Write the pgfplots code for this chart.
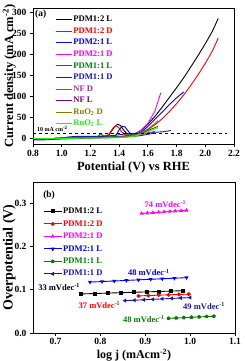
\documentclass[border=0pt]{standalone}
\usepackage{pgfplots}
\pgfplotsset{compat=1.18}
\usepackage{fontspec}
\setmainfont{Liberation Serif}
\definecolor{navyc}{HTML}{1A1A9E}
\definecolor{dgreen}{HTML}{008000}
\definecolor{nfd}{HTML}{9933AA}
\definecolor{nfl}{HTML}{800080}
\definecolor{olivec}{HTML}{808000}
\definecolor{lgreen}{HTML}{22EE22}
\definecolor{bluec}{HTML}{0000FF}
\definecolor{magc}{HTML}{FF00FF}
\begin{document}
\begin{tikzpicture}
\pgfplotsset{
  common/.style={
    scale only axis,
    tick align=outside, tick pos=left,
    axis line style={line width=0.9pt},
    major tick length=3pt,
    every tick/.style={line width=0.8pt,black},
    /pgf/number format/assume math mode=true,
    every tick label/.append style={font=\bfseries\fontsize{9.5}{10}\selectfont},
    label style={font=\bfseries\fontsize{12.5}{14}\selectfont},
  }
}
\begin{axis}[common, at={(0,0)}, anchor=south west, width=201pt, height=136pt,
  xmin=0.8, xmax=2.2, ymin=-14, ymax=310,
  xtick={0.8,1.0,1.2,1.4,1.6,1.8,2.0,2.2}, ytick={0,50,100,150,200,250,300},
  xticklabel style={/pgf/number format/fixed,/pgf/number format/precision=1,/pgf/number format/fixed zerofill},
  xlabel={Potential (V) vs RHE},
  ylabel={Current density (mA cm\textsuperscript{-2})},
  xlabel style={at={(axis description cs:0.5,-0.17)}, anchor=center},
  ylabel style={at={(axis description cs:-0.118,0.5)}, anchor=center},
  legend style={at={(0.095,0.965)}, anchor=north west, draw=none, fill=none,
    font=\bfseries\fontsize{8.6}{9}\selectfont, row sep=2.4pt, nodes={inner sep=1pt}},
  legend cell align=left,
  legend image code/.code={\draw[#1, line width=1pt] (0pt,0pt) -- (16pt,0pt);},
  every axis plot/.append style={line width=0.9pt},
]
\addplot[black] coordinates {(0.95,0)(1.05,1)(1.15,2)(1.25,3)(1.3,4)(1.33,8)(1.35,18)(1.37,28)(1.39,33)(1.41,30)(1.43,20)(1.45,12)(1.48,9)(1.52,12)(1.56,20)(1.6,33)(1.65,52)(1.7,74)(1.75,97)(1.8,120)(1.85,144)(1.9,170)(1.95,197)(2.0,225)(2.05,255)(2.09,285)};
\addlegendentry{\textcolor{black}{PDM1:2 L}}
\addplot[red] coordinates {(0.95,0)(1.1,1)(1.2,2)(1.3,3)(1.32,6)(1.34,15)(1.36,25)(1.38,30)(1.40,24)(1.42,14)(1.45,8)(1.5,8)(1.55,12)(1.6,20)(1.65,32)(1.7,46)(1.75,63)(1.8,82)(1.85,103)(1.9,126)(1.95,151)(2.0,178)(2.05,208)(2.09,238)};
\addlegendentry{\textcolor{red}{PDM1:2 D}}
\addplot[bluec] coordinates {(1.0,0)(1.2,2)(1.35,3)(1.38,8)(1.40,20)(1.42,28)(1.44,27)(1.46,18)(1.48,10)(1.52,9)(1.56,16)(1.6,28)(1.65,45)(1.7,62)(1.75,80)(1.8,96)(1.85,110)};
\addlegendentry{\textcolor{bluec}{PDM2:1 L}}
\addplot[magc] coordinates {(1.0,0)(1.3,2)(1.45,4)(1.5,8)(1.55,18)(1.6,35)(1.65,65)(1.69,108)};
\addlegendentry{\textcolor{magc}{PDM2:1 D}}
\addplot[dgreen] coordinates {(0.8,-3)(1.0,-1)(1.2,1)(1.25,4)(1.27,10)(1.29,6)(1.32,3)(1.4,4)(1.5,8)(1.55,12)(1.6,18)(1.67,28)};
\addlegendentry{\textcolor{dgreen}{PDM1:1 L}}
\addplot[navyc] coordinates {(1.0,0)(1.05,3)(1.1,4)(1.2,4)(1.3,5)(1.35,6)(1.4,8)(1.45,10)(1.5,11)(1.55,12)(1.6,13)(1.65,14)(1.7,15)(1.76,18)};
\addlegendentry{\textcolor{navyc}{PDM1:1 D}}
\addplot[nfd] coordinates {(1.0,0)(1.2,1)(1.4,2)(1.5,5)(1.55,8)(1.6,12)(1.65,16)};
\addlegendentry{\textcolor{nfd}{NF D}}
\addplot[nfl] coordinates {(0.8,-4)(0.89,-4)(1.0,-2)(1.2,0)(1.4,2)(1.5,4)(1.55,6)(1.6,9)(1.65,12)};
\addlegendentry{\textcolor{nfl}{NF L}}
\addplot[olivec] coordinates {(1.0,0)(1.3,1)(1.45,3)(1.5,6)(1.55,12)(1.6,22)(1.65,35)(1.67,42)};
\addlegendentry{\textcolor{olivec}{RuO\textsubscript{2} D}}
\addplot[lgreen] coordinates {(0.8,-1)(1.0,-1)(1.2,0)(1.4,1)(1.5,4)(1.55,9)(1.6,15)(1.65,22)(1.67,25)};
\addlegendentry{\textcolor{lgreen}{RuO\textsubscript{2} L}}
\addplot[black, dashed, line width=1pt, forget plot] coordinates {(0.8,10)(2.15,10)};
\node[anchor=south west, font=\bfseries\fontsize{6}{6}\selectfont, inner sep=1pt] at (axis cs:0.82,12) {10 mA cm\textsuperscript{-2}};
\node[anchor=north west, font=\bfseries\fontsize{9.5}{10}\selectfont, inner sep=0pt] at (rel axis cs:0.01,0.985) {(a)};
\end{axis}

\begin{axis}[common, at={(0,-189pt)}, anchor=south west, width=202pt, height=151pt,
  xmin=0.65, xmax=1.1, ymin=0, ymax=0.35,
  xtick={0.7,0.8,0.9,1.0,1.1}, ytick={0,0.1,0.2,0.3},
  xticklabel style={yshift=1.5pt, /pgf/number format/fixed,/pgf/number format/precision=1,/pgf/number format/fixed zerofill},
  yticklabel style={/pgf/number format/fixed,/pgf/number format/precision=1,/pgf/number format/fixed zerofill},
  xlabel={log j (mAcm\textsuperscript{-2})},
  ylabel={Overpotential (V)},
  xlabel style={at={(axis description cs:0.5,-0.148)}, anchor=center, font=\bfseries\fontsize{12}{13}\selectfont},
  ylabel style={at={(axis description cs:-0.118,0.5)}, anchor=center, font=\bfseries\fontsize{14}{15}\selectfont},
  legend style={at={(0.035,0.85)}, anchor=north west, draw=none, fill=none,
    font=\bfseries\fontsize{8.6}{9}\selectfont, row sep=3.3pt, nodes={inner sep=1pt}},
  legend cell align=left,
  legend image code/.code={\draw[mark repeat=2,mark phase=2,#1] plot coordinates {(0pt,0pt) (9pt,0pt) (18pt,0pt)};},
  every axis plot/.append style={line width=0.9pt, mark size=1.5pt},
]
\addplot[black, mark=square*] coordinates {(0.756,0.0905)(0.787,0.0915)(0.817,0.0925)(0.846,0.0935)(0.875,0.0944)(0.903,0.0953)(0.930,0.0962)(0.957,0.0971)(0.983,0.0980)};
\addlegendentry{\textcolor{black}{PDM1:2 L}}
\addplot[red, mark=*] coordinates {(0.885,0.0860)(0.907,0.0868)(0.930,0.0877)(0.952,0.0885)(0.975,0.0893)(0.997,0.0901)};
\addlegendentry{\textcolor{red}{PDM1:2 D}}
\addplot[magc, mark=triangle*] coordinates {(0.892,0.2770)(0.905,0.2780)(0.917,0.2789)(0.930,0.2798)(0.942,0.2807)(0.955,0.2817)(0.967,0.2826)(0.980,0.2835)(0.992,0.2844)};
\addlegendentry{\textcolor{magc}{PDM2:1 D}}
\addplot[bluec, mark=triangle*, mark options={rotate=180}] coordinates {(0.777,0.1180)(0.804,0.1193)(0.831,0.1206)(0.858,0.1219)(0.885,0.1232)(0.912,0.1245)(0.938,0.1257)(0.965,0.1270)(0.992,0.1283)};
\addlegendentry{\textcolor{bluec}{PDM2:1 L}}
\addplot[dgreen, mark=pentagon*] coordinates {(0.952,0.0340)(0.969,0.0348)(0.986,0.0356)(1.003,0.0365)(1.020,0.0373)(1.037,0.0381)(1.053,0.0388)};
\addlegendentry{\textcolor{dgreen}{PDM1:1 L}}
\addplot[navyc, mark=triangle*, mark options={rotate=90}] coordinates {(0.855,0.0750)(0.876,0.0760)(0.897,0.0770)(0.917,0.0780)(0.938,0.0791)(0.959,0.0801)(0.979,0.0811)(1.000,0.0821)};
\addlegendentry{\textcolor{navyc}{PDM1:1 D}}
\node[font=\bfseries\fontsize{8.5}{9}\selectfont, text=magc] at (axis cs:0.945,0.298) {74 mVdec\textsuperscript{-1}};
\node[font=\bfseries\fontsize{8.5}{9}\selectfont, text=bluec] at (axis cs:0.908,0.140) {48 mVdec\textsuperscript{-1}};
\node[anchor=east, font=\bfseries\fontsize{8.5}{9}\selectfont, text=black, inner sep=1pt] at (axis cs:0.757,0.107) {33 mVdec\textsuperscript{-1}};
\node[font=\bfseries\fontsize{8.5}{9}\selectfont, text=red] at (axis cs:0.798,0.065) {37 mVdec\textsuperscript{-1}};
\node[font=\bfseries\fontsize{8.5}{9}\selectfont, text=navyc] at (axis cs:1.031,0.063) {49 mVdec\textsuperscript{-1}};
\node[font=\bfseries\fontsize{8.5}{9}\selectfont, text=dgreen] at (axis cs:0.897,0.033) {48 mVdec\textsuperscript{-1}};
\node[anchor=north west, font=\bfseries\fontsize{9.5}{10}\selectfont, inner sep=0pt] at (rel axis cs:0.05,0.94) {(b)};
\end{axis}
\pgfresetboundingbox
\path[use as bounding box] (-33pt,-217pt) rectangle (211pt,144pt);
\end{tikzpicture}
\end{document}
